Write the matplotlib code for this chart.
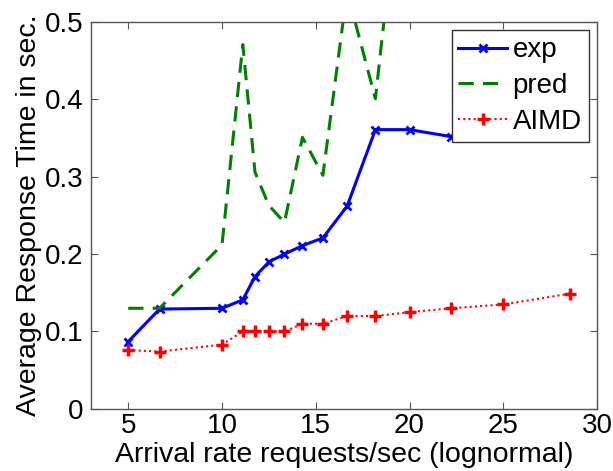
import matplotlib
matplotlib.use("Agg")
import matplotlib.pyplot as plt

# arrival rates (requests/sec)
rate = [5, 6.67, 10, 11.11, 11.76, 12.5, 13.33, 14.29, 15.38, 16.67, 18.18, 20, 22.22, 25, 28.57]

exp_rt = [0.087, 0.129, 0.130, 0.141, 0.171, 0.190, 0.200, 0.211, 0.221, 0.262, 0.361, 0.361, 0.352, 0.40, 0.45]
pred_rt = [0.130, 0.130, 0.212, 0.471, 0.306, 0.263, 0.241, 0.351, 0.302, 0.54, 0.401, 0.80, 0.9, 1.0, 1.1]
aimd_rt = [0.076, 0.074, 0.083, 0.100, 0.100, 0.100, 0.100, 0.110, 0.110, 0.120, 0.120, 0.125, 0.130, 0.135, 0.149]

xticks = [5, 10, 15, 20, 25, 30]
yticks = [0, 0.1, 0.2, 0.3, 0.4, 0.5]

plt.rcParams.update({
    "font.family": ["Liberation Sans", "DejaVu Sans"],
    "font.size": 20,
})

fig = plt.figure(figsize=(6.13, 4.71), dpi=100)
ax = fig.add_axes([0.148, 0.132, 0.826, 0.821])

ax.plot(rate, exp_rt, color="#0000ff", linewidth=2.2, marker="x",
        markersize=6, markeredgewidth=2, label="exp")
ax.plot(rate, pred_rt, color="#008000", linewidth=2.2, linestyle=(0, (5, 3)),
        label="pred")
ax.plot(rate, aimd_rt, color="#ff0000", linewidth=1.5, linestyle=(0, (1, 1.5)),
        marker="+", markersize=8, markeredgewidth=2.5, label="AIMD")

ax.set_xlim(3, 30)
ax.set_ylim(0, 0.5)
ax.set_xticks(xticks)
ax.set_yticks(yticks)
ax.set_yticklabels(["0", "0.1", "0.2", "0.3", "0.4", "0.5"])
ax.tick_params(direction="in", top=True, right=True, length=5, width=0.8,
               color="#555555", labelsize=20)
ax.tick_params(axis="x", pad=3)
ax.tick_params(axis="y", pad=5)
for s in ax.spines.values():
    s.set_color("#555555")
    s.set_linewidth(1.0)

ax.set_xlabel("Arrival rate requests/sec (lognormal)", fontsize=20.5, labelpad=2.5)
ax.set_ylabel("Average Response Time in sec.", fontsize=20.5, labelpad=2)

leg = ax.legend(loc="upper right", fontsize=20, fancybox=False, framealpha=1,
                edgecolor="#333333", borderaxespad=0.3, handlelength=1.75,
                handletextpad=0.2, borderpad=0.25, labelspacing=0.35)
leg.get_frame().set_linewidth(1.0)

fig.savefig("out.png", dpi=100)
